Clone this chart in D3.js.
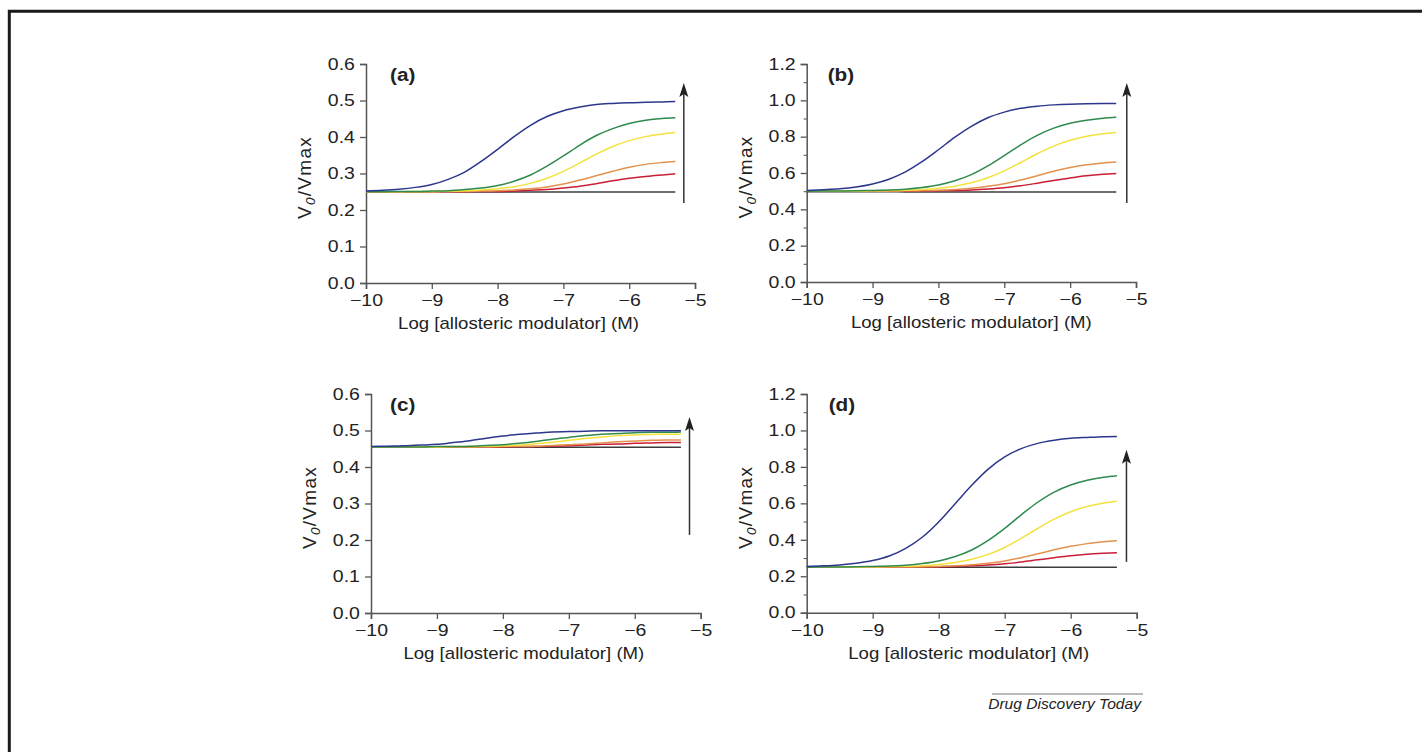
<!DOCTYPE html>
<html>
<head>
<meta charset="utf-8">
<script src="https://cdn.jsdelivr.net/npm/d3@7/dist/d3.min.js"></script>
<style>
  html, body { margin: 0; padding: 0; background: #fff; }
  svg { display: block; }
  text { font-family: "Liberation Sans", Arial, Helvetica, sans-serif; fill: #222; }
</style>
</head>
<body>
<svg id="chart" width="1422" height="752"></svg>
<script>
// ---------- DATA ----------
const xValues = [-10, -9.75, -9.5, -9.25, -9, -8.75, -8.5, -8.25, -8, -7.75, -7.5, -7.25, -7, -6.75, -6.5, -6.25, -6, -5.75, -5.5, -5.3];
const seriesNames = ["control", "red", "orange", "yellow", "green", "blue"];
const seriesColors = ["#3c3c3c", "#c91f36", "#e2924e", "#f4e23c", "#2f8a4e", "#2c378c"];

const panelA = [
  [0.250, 0.250, 0.250, 0.250, 0.250, 0.250, 0.249, 0.249, 0.249, 0.249, 0.249, 0.249, 0.249, 0.249, 0.249, 0.249, 0.249, 0.249, 0.249, 0.249],
  [0.250, 0.250, 0.250, 0.250, 0.250, 0.250, 0.250, 0.251, 0.251, 0.252, 0.254, 0.256, 0.260, 0.265, 0.272, 0.280, 0.287, 0.292, 0.296, 0.299],
  [0.250, 0.250, 0.250, 0.250, 0.250, 0.251, 0.251, 0.252, 0.253, 0.255, 0.258, 0.263, 0.271, 0.282, 0.294, 0.306, 0.317, 0.325, 0.330, 0.333],
  [0.250, 0.250, 0.250, 0.251, 0.251, 0.252, 0.253, 0.255, 0.258, 0.264, 0.273, 0.287, 0.306, 0.329, 0.353, 0.374, 0.390, 0.401, 0.408, 0.412],
  [0.250, 0.250, 0.251, 0.251, 0.252, 0.253, 0.256, 0.260, 0.267, 0.279, 0.296, 0.320, 0.348, 0.378, 0.404, 0.423, 0.437, 0.446, 0.451, 0.453],
  [0.252, 0.254, 0.257, 0.262, 0.270, 0.284, 0.304, 0.333, 0.366, 0.401, 0.432, 0.456, 0.472, 0.482, 0.489, 0.492, 0.494, 0.495, 0.496, 0.497]
];
const panelB = [
  [0.497, 0.497, 0.497, 0.497, 0.497, 0.497, 0.496, 0.496, 0.496, 0.496, 0.496, 0.496, 0.496, 0.496, 0.496, 0.496, 0.496, 0.496, 0.496, 0.496],
  [0.500, 0.500, 0.500, 0.500, 0.500, 0.500, 0.501, 0.501, 0.502, 0.504, 0.507, 0.512, 0.519, 0.530, 0.544, 0.559, 0.573, 0.585, 0.593, 0.597],
  [0.500, 0.500, 0.500, 0.500, 0.501, 0.501, 0.502, 0.503, 0.505, 0.509, 0.516, 0.527, 0.541, 0.561, 0.585, 0.610, 0.630, 0.645, 0.655, 0.661],
  [0.500, 0.500, 0.501, 0.501, 0.502, 0.503, 0.505, 0.509, 0.516, 0.527, 0.546, 0.574, 0.612, 0.658, 0.706, 0.748, 0.780, 0.802, 0.816, 0.823],
  [0.500, 0.501, 0.501, 0.502, 0.504, 0.506, 0.511, 0.520, 0.534, 0.557, 0.591, 0.639, 0.696, 0.755, 0.807, 0.847, 0.874, 0.891, 0.902, 0.907],
  [0.504, 0.508, 0.513, 0.523, 0.540, 0.566, 0.606, 0.662, 0.728, 0.797, 0.857, 0.904, 0.935, 0.956, 0.968, 0.975, 0.979, 0.981, 0.982, 0.983]
];
const panelC = [
  [0.454, 0.454, 0.454, 0.454, 0.454, 0.454, 0.454, 0.454, 0.454, 0.454, 0.454, 0.454, 0.454, 0.454, 0.454, 0.454, 0.454, 0.454, 0.454, 0.454],
  [0.455, 0.455, 0.455, 0.455, 0.455, 0.455, 0.455, 0.455, 0.455, 0.456, 0.456, 0.457, 0.458, 0.460, 0.462, 0.463, 0.465, 0.466, 0.467, 0.467],
  [0.455, 0.455, 0.455, 0.455, 0.455, 0.455, 0.455, 0.455, 0.456, 0.456, 0.457, 0.459, 0.461, 0.463, 0.466, 0.469, 0.471, 0.473, 0.474, 0.474],
  [0.455, 0.455, 0.455, 0.455, 0.455, 0.456, 0.456, 0.457, 0.458, 0.460, 0.464, 0.468, 0.473, 0.478, 0.482, 0.486, 0.488, 0.489, 0.490, 0.490],
  [0.455, 0.455, 0.455, 0.455, 0.456, 0.456, 0.457, 0.459, 0.461, 0.465, 0.470, 0.476, 0.481, 0.486, 0.490, 0.492, 0.494, 0.495, 0.495, 0.496],
  [0.456, 0.457, 0.458, 0.460, 0.462, 0.467, 0.472, 0.479, 0.485, 0.490, 0.493, 0.496, 0.497, 0.498, 0.499, 0.499, 0.499, 0.4995, 0.4995, 0.4995]
];
const panelD = [
  [0.250, 0.250, 0.250, 0.250, 0.250, 0.250, 0.250, 0.250, 0.250, 0.250, 0.250, 0.250, 0.250, 0.250, 0.250, 0.250, 0.250, 0.250, 0.250, 0.250],
  [0.250, 0.250, 0.250, 0.250, 0.250, 0.250, 0.251, 0.251, 0.252, 0.254, 0.257, 0.262, 0.269, 0.278, 0.290, 0.302, 0.313, 0.321, 0.326, 0.329],
  [0.250, 0.250, 0.250, 0.250, 0.250, 0.251, 0.251, 0.252, 0.254, 0.257, 0.263, 0.271, 0.284, 0.302, 0.323, 0.345, 0.364, 0.379, 0.389, 0.395],
  [0.250, 0.250, 0.251, 0.251, 0.252, 0.253, 0.255, 0.258, 0.265, 0.275, 0.293, 0.320, 0.358, 0.408, 0.462, 0.513, 0.554, 0.583, 0.602, 0.612],
  [0.250, 0.251, 0.251, 0.252, 0.254, 0.256, 0.261, 0.270, 0.284, 0.308, 0.344, 0.397, 0.463, 0.537, 0.606, 0.662, 0.701, 0.727, 0.743, 0.751],
  [0.254, 0.257, 0.262, 0.271, 0.286, 0.311, 0.353, 0.414, 0.498, 0.598, 0.699, 0.788, 0.855, 0.900, 0.929, 0.946, 0.957, 0.962, 0.966, 0.967]
];

const xTicks = [-10, -9, -8, -7, -6, -5];
const yTicksSmall = [0, 0.1, 0.2, 0.3, 0.4, 0.5, 0.6];
const yTicksLarge = [0, 0.2, 0.4, 0.6, 0.8, 1.0, 1.2];
const yMinorLarge = [0.1, 0.3, 0.5, 0.7, 0.9, 1.1];
const panelLabels = ["(a)", "(b)", "(c)", "(d)"];
// arrow annotation in data units: [x, yStart, yEnd]
const arrowA = [-5.17, 0.219, 0.548];
const arrowB = [-5.14, 0.435, 1.095];
const arrowC = [-5.17, 0.214, 0.537];
const arrowD = [-5.155, 0.279, 0.894];
const xTitle = "Log [allosteric modulator] (M)";
const footer = "Drug Discovery Today";

// ---------- LAYOUT ----------
const panels = [
  { data: panelA, label: panelLabels[0], yMax: 0.6, yTicks: yTicksSmall, yMinor: [], arrow: arrowA,
    x0: 366, x1: 695, yb: 283, yt: 64, titleShift: -12, labelDx: 24 },
  { data: panelB, label: panelLabels[1], yMax: 1.2, yTicks: yTicksLarge, yMinor: yMinorLarge, arrow: arrowB,
    x0: 806.7, x1: 1136, yb: 282, yt: 64, titleShift: 0, labelDx: 21 },
  { data: panelC, label: panelLabels[2], yMax: 0.6, yTicks: yTicksSmall, yMinor: [], arrow: arrowC,
    x0: 371, x1: 700.7, yb: 613, yt: 394, titleShift: -12, labelDx: 19 },
  { data: panelD, label: panelLabels[3], yMax: 1.2, yTicks: yTicksLarge, yMinor: yMinorLarge, arrow: arrowD,
    x0: 806.7, x1: 1136.7, yb: 612.7, yt: 394, titleShift: -3, labelDx: 22 }
];

const SX = 1.18;  // horizontal stretch of the tick lettering in the original figure
const SXT = 1.095; // stretch of the axis titles
const svg = d3.select("#chart");
const axisColor = "#555";

// frame (cropped box: top and left edges)
svg.append("path")
  .attr("d", "M9.3,752 L9.3,11.2 L1422,11.2")
  .attr("fill", "none").attr("stroke", "#1a1a1a").attr("stroke-width", 3);

const fmt = d3.format(".1f");

function styleTickText(sel) {
  sel.selectAll(".tick text")
    .attr("font-size", 16.5).attr("fill", "#222")
    .attr("font-family", "'Liberation Sans', Arial, sans-serif")
    .attr("transform", `scale(${SX},1)`);
}

panels.forEach(p => {
  const x = d3.scaleLinear().domain([-10, -5]).range([p.x0, p.x1]);
  const y = d3.scaleLinear().domain([0, p.yMax]).range([p.yb, p.yt]);
  const g = svg.append("g");

  // x axis
  const xAxis = d3.axisBottom(x).tickValues(xTicks).tickSize(6).tickPadding(5.5)
    .tickFormat(d3.format("d"));
  const gx = g.append("g").attr("transform", `translate(0,${p.yb})`).call(xAxis);
  gx.select(".domain").attr("stroke", axisColor).attr("stroke-width", 1.5);
  gx.selectAll(".tick line").attr("stroke", axisColor).attr("stroke-width", 1.3);
  styleTickText(gx);

  // y axis
  const yAxis = d3.axisLeft(y).tickValues(p.yTicks).tickSize(6).tickPadding(3.4).tickFormat(fmt);
  const gy = g.append("g").attr("transform", `translate(${p.x0},0)`).call(yAxis);
  gy.select(".domain").attr("stroke", axisColor).attr("stroke-width", 1.5);
  gy.selectAll(".tick line").attr("stroke", axisColor).attr("stroke-width", 1.3);
  styleTickText(gy);

  if (p.yMinor.length) {
    const ym = d3.axisLeft(y).tickValues(p.yMinor).tickSize(3).tickFormat("");
    const gm = g.append("g").attr("transform", `translate(${p.x0},0)`).call(ym);
    gm.select(".domain").remove();
    gm.selectAll(".tick line").attr("stroke", axisColor).attr("stroke-width", 1.1);
  }

  // curves
  const line = d3.line()
    .x((d, i) => x(xValues[i]))
    .y(d => y(d))
    .curve(d3.curveMonotoneX);
  p.data.forEach((vals, si) => {
    g.append("path")
      .datum(vals)
      .attr("class", "series-" + seriesNames[si])
      .attr("d", line)
      .attr("fill", "none")
      .attr("stroke", seriesColors[si])
      .attr("stroke-width", 1.5);
  });

  // arrow
  const ax = x(p.arrow[0]);
  const ay0 = y(p.arrow[1]);
  const ay1 = y(p.arrow[2]);
  g.append("line").attr("x1", ax).attr("x2", ax).attr("y1", ay0).attr("y2", ay1 + 10)
    .attr("stroke", "#333").attr("stroke-width", 1.5);
  g.append("path")
    .attr("d", `M${ax},${ay1} L${ax - 4.5},${ay1 + 14} L${ax},${ay1 + 11} L${ax + 4.5},${ay1 + 14} Z`)
    .attr("fill", "#222");

  // panel label
  g.append("text")
    .attr("transform", `translate(${p.x0 + p.labelDx},${p.yt + 16.5}) scale(1.12,1)`)
    .attr("font-size", 18.5).attr("font-weight", "bold").text(p.label);

  // y title
  const cy = (p.yb + p.yt) / 2 + 4;
  const yt = g.append("text")
    .attr("transform", `translate(${p.x0 - 55},${cy}) rotate(-90)`)
    .attr("text-anchor", "middle").attr("font-size", 19).attr("letter-spacing", 1.3);
  yt.append("tspan").text("V");
  yt.append("tspan").attr("font-size", 13.5).attr("font-style", "italic").attr("dy", 4).text("0");
  yt.append("tspan").attr("dy", -4).text("/Vmax");

  // x title
  g.append("text")
    .attr("transform", `translate(${(p.x0 + p.x1) / 2 + p.titleShift},${p.yb + 46}) scale(${SXT},1)`)
    .attr("text-anchor", "middle").attr("font-size", 17).text(xTitle);
});

// footer
svg.append("line").attr("x1", 992).attr("x2", 1143).attr("y1", 694).attr("y2", 694)
  .attr("stroke", "#777").attr("stroke-width", 1);
svg.append("text")
  .attr("transform", `translate(1141,709) scale(1.04,1)`)
  .attr("text-anchor", "end")
  .attr("font-size", 15).attr("font-style", "italic").attr("fill", "#333").text(footer);
</script>
</body>
</html>
